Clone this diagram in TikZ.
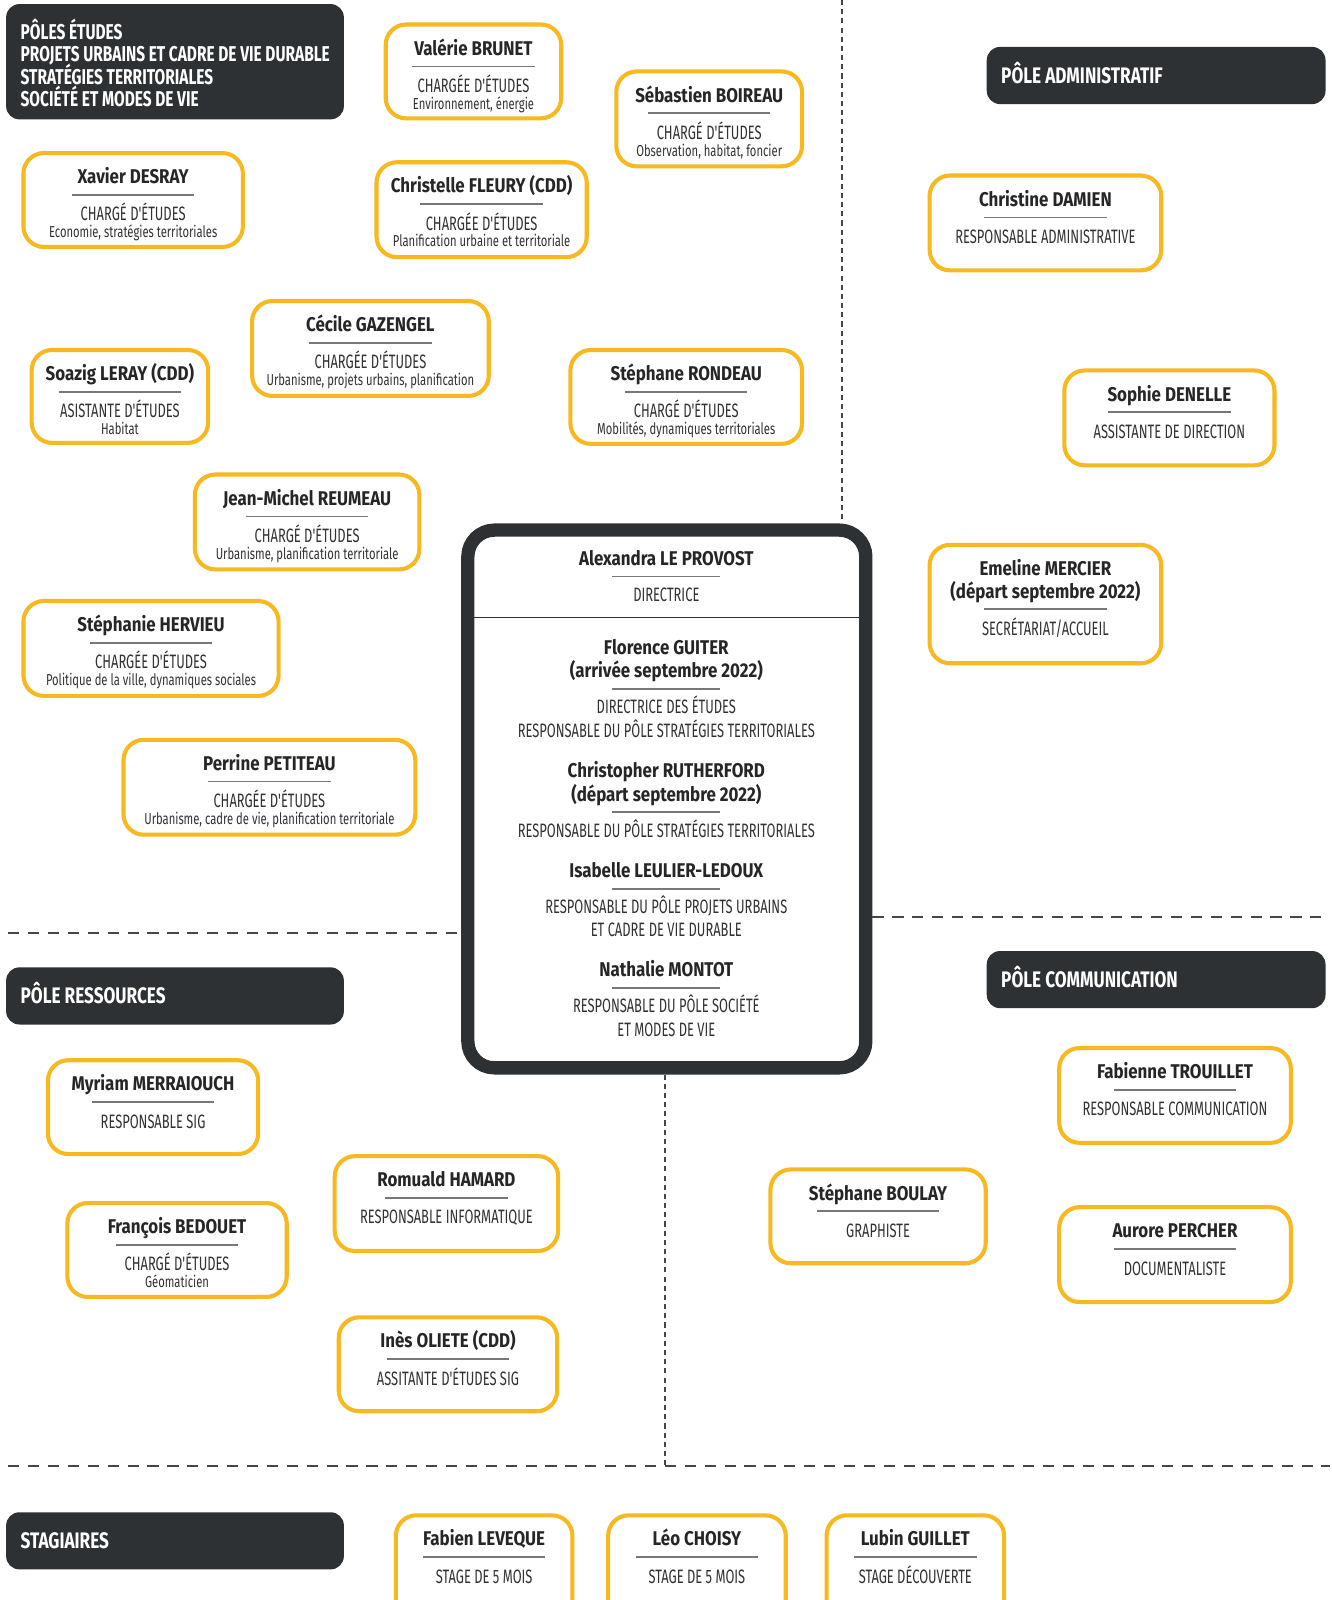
\documentclass[tikz,border=0pt]{standalone}
\usepackage{fontspec}
\setmainfont{Fira Sans}
\newfontfamily\fnm{Fira Sans}[FakeStretch=0.85]
\newfontfamily\fti{Fira Sans}[FakeStretch=0.665]
\newfontfamily\fsb{Fira Sans}[FakeStretch=0.71]
\newfontfamily\fhd{Fira Sans}[FakeStretch=0.722]
\newfontfamily\fhe{Fira Sans}[FakeStretch=0.765]
\usetikzlibrary{fit,calc}
\definecolor{ybox}{RGB}{247,184,32}
\definecolor{dark}{RGB}{46,49,51}
\definecolor{txt}{RGB}{38,38,38}
\definecolor{tit}{RGB}{50,50,50}
\definecolor{rulec}{RGB}{120,120,120}
\definecolor{dashc}{RGB}{70,70,70}
\tikzset{
 person/.style={draw=ybox, line width=4pt, rounded corners=20pt, fill=white, inner sep=-2pt},
 hdr/.style={fill=dark, rounded corners=13pt, inner sep=0pt},
 dirbox/.style={draw=dark, line width=13pt, rounded corners=26pt, inner sep=0pt},
 nm/.style={font=\fnm\bfseries\fontsize{19.5}{23}\selectfont, text=txt, inner sep=0pt, anchor=base},
 ti/.style={font=\fti\fontsize{19}{23}\selectfont, text=tit, inner sep=0pt, anchor=base},
 sb/.style={font=\fsb\fontsize{15.5}{17}\selectfont, text=tit, inner sep=0pt, anchor=base},
 hd/.style={font=\fhd\bfseries\fontsize{21}{22}\selectfont, text=white, inner sep=0pt, anchor=base west},
 hs/.style={font=\fhe\bfseries\fontsize{22}{22}\selectfont, text=white, inner sep=0pt, anchor=base west},
 rl/.style={draw=rulec, line width=1.6pt},
 divl/.style={draw=dark, line width=1.4pt},
 dashh/.style={draw=dashc, line width=1.8pt, dash pattern=on 11pt off 8.5pt},
 dashv/.style={draw=dashc, line width=1.8pt, dash pattern=on 5pt off 4pt},
}
% id, left, top, right, bottom, name, title, sub
\newcommand\pbox[8]{%
 \node[person, fit={(#2,#3) (#4,#5)}] (#1) {};
 \node[nm] (#1n) at ([yshift=-32pt]#1.north) {#6};
 \draw[rl] ([xshift=-60pt,yshift=-43pt]#1.north) -- ([xshift=60pt,yshift=-43pt]#1.north);
 \node[ti] (#1t) at ([yshift=-68.5pt]#1.north) {#7};
 \if\relax\detokenize{#8}\relax\else
 \node[sb] (#1s) at ([yshift=-85pt]#1.north) {#8};
 \fi}
\begin{document}
\begin{tikzpicture}[x=1pt,y=-1pt]
\useasboundingbox (0,0) rectangle (1305,1568);
\fill[white] (0,0) rectangle (1305,1568);

% ---------- dashed separators
\node[dirbox, fit={(458.5,519.5) (848.5,1046.5)}] (dir) {};
\coordinate (vt) at (825,0);
\draw[dashv] (vt) -- (vt |- dir.north);
\coordinate (hl) at (8,914);
\draw[dashh] (hl) -- (hl -| dir.west);
\coordinate (hr) at (1303,899);
\draw[dashh] (hr -| dir.east) -- (hr);
\coordinate (vb) at (652,1437);
\draw[dashv] (vb |- dir.south) -- (vb);
\coordinate (bl) at (8,1437);
\coordinate (br) at (1303,1437);
\draw[dashh] (bl) -- (br);

% ---------- headers
\node[hdr, fit={(6,4) (337,117)}] (hEt) {};
\node[hd] (hEt1) at (20,38.5) {PÔLES ÉTUDES};
\node[hd] (hEt2) at (20,60.5) {PROJETS URBAINS ET CADRE DE VIE DURABLE};
\node[hd] (hEt3) at (20,82.5) {STRATÉGIES TERRITORIALES};
\node[hd] (hEt4) at (20,104.5) {SOCIÉTÉ ET MODES DE VIE};
\node[hdr, fit={(967,46) (1299,102)}] (hAd) {};
\node[hs] (hAdT) at (981,82) {PÔLE ADMINISTRATIF};
\node[hdr, fit={(6,948) (337,1004)}] (hRe) {};
\node[hs] (hReT) at (20,983) {PÔLE RESSOURCES};
\node[hdr, fit={(967,932) (1299,988)}] (hCo) {};
\node[hs] (hCoT) at (981,968) {PÔLE COMMUNICATION};
\node[hdr, fit={(6,1482) (337,1538)}] (hSt) {};
\node[hs] (hStT) at (20,1518) {STAGIAIRES};

% ---------- pôles études
\pbox{brunet}{376}{22}{552}{118}{Valérie BRUNET}{CHARGÉE D'ÉTUDES}{Environnement, énergie}
\pbox{boireau}{602}{68}{788}{165}{Sébastien BOIREAU}{CHARGÉ D'ÉTUDES}{Observation, habitat, foncier}
\pbox{desray}{21}{148}{240}{244}{Xavier DESRAY}{CHARGÉ D'ÉTUDES}{Economie, stratégies territoriales}
\pbox{fleury}{367}{157}{577}{254}{Christelle FLEURY (CDD)}{CHARGÉE D'ÉTUDES}{Planification urbaine et territoriale}
\pbox{gazengel}{245}{293}{481}{390}{Cécile GAZENGEL}{CHARGÉE D'ÉTUDES}{Urbanisme, projets urbains, planification}
\pbox{leray}{29}{341}{206}{436}{Soazig LERAY (CDD)}{ASISTANTE D'ÉTUDES}{Habitat}
\pbox{rondeau}{557}{341}{788}{437}{Stéphane RONDEAU}{CHARGÉ D'ÉTUDES}{Mobilités, dynamiques territoriales}
\pbox{reumeau}{189}{463}{413}{560}{Jean-Michel REUMEAU}{CHARGÉ D'ÉTUDES}{Urbanisme, planification territoriale}
\pbox{hervieu}{21}{587}{275}{684}{Stéphanie HERVIEU}{CHARGÉE D'ÉTUDES}{Politique de la ville, dynamiques sociales}
\pbox{petiteau}{119}{723}{409}{820}{Perrine PETITEAU}{CHARGÉE D'ÉTUDES}{Urbanisme, cadre de vie, planification territoriale}

% ---------- pôle administratif
\pbox{damien}{909}{170}{1140}{267}{Christine DAMIEN}{RESPONSABLE ADMINISTRATIVE}{}
\pbox{denelle}{1041}{361}{1251}{458}{Sophie DENELLE}{ASSISTANTE DE DIRECTION}{}
\node[person, fit={(909,532) (1140,652)}] (mercier) {};
\node[nm] (merciern) at ([yshift=-32pt]mercier.north) {Emeline MERCIER};
\node[nm] (mercierd) at ([yshift=-55pt]mercier.north) {(départ septembre 2022)};
\draw[rl] ([xshift=-60pt,yshift=-65pt]mercier.north) -- ([xshift=60pt,yshift=-65pt]mercier.north);
\node[ti] (merciert) at ([yshift=-91pt]mercier.north) {SECRÉTARIAT/ACCUEIL};

% ---------- pôle ressources
\pbox{merraiouch}{45}{1037}{255}{1133}{Myriam MERRAIOUCH}{RESPONSABLE SIG}{}
\pbox{hamard}{326}{1131}{549}{1228}{Romuald HAMARD}{RESPONSABLE INFORMATIQUE}{}
\pbox{bedouet}{64}{1177}{283}{1273}{François BEDOUET}{CHARGÉ D'ÉTUDES}{Géomaticien}
\pbox{oliete}{330}{1289}{548}{1385}{Inès OLIETE (CDD)}{ASSITANTE D'ÉTUDES SIG}{}

% ---------- pôle communication
\pbox{trouillet}{1036}{1025}{1267}{1122}{Fabienne TROUILLET}{RESPONSABLE COMMUNICATION}{}
\pbox{boulay}{753}{1144}{968}{1240}{Stéphane BOULAY}{GRAPHISTE}{}
\pbox{percher}{1036}{1181}{1267}{1278}{Aurore PERCHER}{DOCUMENTALISTE}{}

% ---------- stagiaires
\pbox{leveque}{386}{1483}{563}{1590}{Fabien LEVEQUE}{STAGE DE 5 MOIS}{}
\pbox{choisy}{594}{1483}{772}{1590}{Léo CHOISY}{STAGE DE 5 MOIS}{}
\pbox{guillet}{808}{1483}{986}{1590}{Lubin GUILLET}{STAGE DÉCOUVERTE}{}

% ---------- direction
\draw[divl] ([xshift=6.5pt]dir.west |- 0,605) -- ([xshift=-6.5pt]dir.east |- 0,605);
\node[nm] (d1n) at (653,554) {Alexandra LE PROVOST};
\draw[rl] (600,565) -- (706,565);
\node[ti] (d1t) at (653,589.5) {DIRECTRICE};
\node[nm] (d2n) at (653,641) {Florence GUITER};
\node[nm] (d2d) at (653,664) {(arrivée septembre 2022)};
\draw[rl] (600,675) -- (706,675);
\node[ti] (d2t) at (653,699.5) {DIRECTRICE DES ÉTUDES};
\node[ti] (d2u) at (653,722.5) {RESPONSABLE DU PÔLE STRATÉGIES TERRITORIALES};
\node[nm] (d3n) at (653,762) {Christopher RUTHERFORD};
\node[nm] (d3d) at (653,785) {(départ septembre 2022)};
\draw[rl] (600,796) -- (706,796);
\node[ti] (d3t) at (653,820.5) {RESPONSABLE DU PÔLE STRATÉGIES TERRITORIALES};
\node[nm] (d4n) at (653,860) {Isabelle LEULIER-LEDOUX};
\draw[rl] (600,871) -- (706,871);
\node[ti] (d4t) at (653,895.5) {RESPONSABLE DU PÔLE PROJETS URBAINS};
\node[ti] (d4u) at (653,917.5) {ET CADRE DE VIE DURABLE};
\node[nm] (d5n) at (653,957) {Nathalie MONTOT};
\draw[rl] (600,968) -- (706,968);
\node[ti] (d5t) at (653,992.5) {RESPONSABLE DU PÔLE SOCIÉTÉ};
\node[ti] (d5u) at (653,1015.5) {ET MODES DE VIE};
\end{tikzpicture}
\end{document}
